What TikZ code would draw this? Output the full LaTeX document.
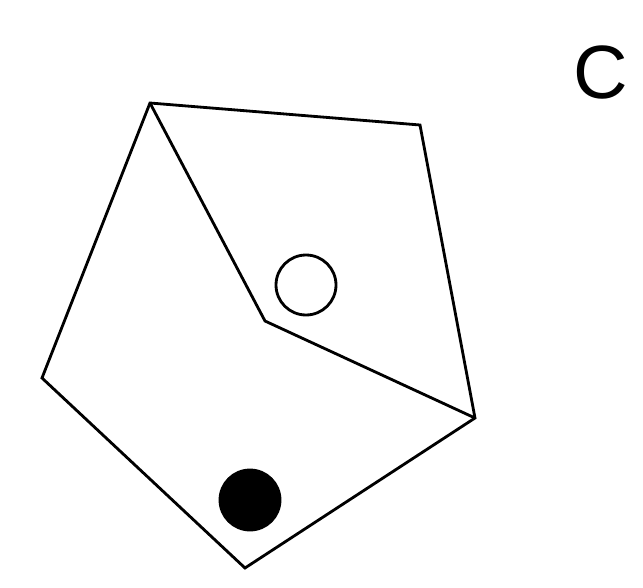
\documentclass[tikz,border=0pt]{standalone}
\usepackage{fontspec}
\setsansfont{Liberation Sans}
\usetikzlibrary{positioning}
\begin{document}
\begin{tikzpicture}[x=0.02cm,y=-0.02cm,line width=1.6pt,line join=miter,
  dot/.style={circle,draw,inner sep=0pt,minimum size=1.2cm}]
\useasboundingbox (0,0) rectangle (643,588);
\coordinate (tl) at (150,103);\coordinate (tr) at (420,125);
\coordinate (r) at (475,418);\coordinate (b) at (245,568);
\coordinate (l) at (42,378);\coordinate (m) at (265,321);
\draw (tl)--(tr)--(r)--(b)--(l)--cycle;
\draw (tl)--(m)--(r);
\node[dot] (open) at (306,285){};
\node[dot,fill=black] (full) at (250,500){};
\node[font=\sffamily\fontsize{43}{43}\selectfont] (labelC) at (601,72){C};
\end{tikzpicture}
\end{document}
